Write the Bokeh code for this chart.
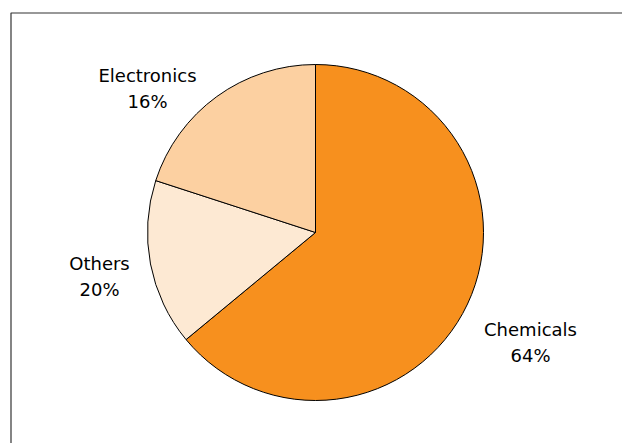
import math
from bokeh.plotting import figure
from bokeh.models import Range1d, ColumnDataSource
from bokeh.core.properties import value
from bokeh.embed import file_html
from bokeh.resources import INLINE

# ---- data (slices in drawing order, clockwise from 12 o'clock) ----
categories = ["Chemicals", "Others", "Electronics"]
slice_values = [64, 16, 20]           # angular shares as drawn
label_percents = [64, 20, 16]         # percentages printed on the labels
colors = ["#F7901E", "#FDE9D3", "#FCD0A1"]

W, H = 622, 443
cx, cy, r = 315, H - 232, 168
# label centres (layout, screen coordinates)
label_pos = [(530, 342), (99, 276), (147, 88)]

total = float(sum(slice_values))
starts, ends = [], []
acc = 0.0
for v in slice_values:
    starts.append(math.pi / 2 - 2 * math.pi * acc / total)
    acc += v
    ends.append(math.pi / 2 - 2 * math.pi * acc / total)

src = ColumnDataSource(dict(cat=categories, start=starts, end=ends, color=colors))

p = figure(width=W, height=H, output_backend="svg", toolbar_location=None,
           x_range=Range1d(0, W), y_range=Range1d(0, H), min_border=0)
p.axis.visible = False
p.grid.visible = False
p.outline_line_color = None
p.background_fill_color = "white"

# outer frame of the chart area (extends past the window)
p.quad(left=[10.5], right=[W + 50], bottom=[-50], top=[H - 12.5],
       fill_color=None, line_color="#333333", line_width=1.2)

p.wedge(x=cx, y=cy, radius=r, start_angle="start", end_angle="end",
        direction="clock", fill_color="color", line_color="black",
        line_width=1, source=src)

texts = [f"{c}\n{pc}%" for c, pc in zip(categories, label_percents)]
p.text(x=[lp[0] for lp in label_pos], y=[H - lp[1] for lp in label_pos],
       text=texts, text_align="center", text_baseline="middle",
       text_font=value("DejaVu Sans"), text_font_size="18px",
       text_line_height=1.25, text_color="black")

open("out.html", "w").write(file_html(p, INLINE))
